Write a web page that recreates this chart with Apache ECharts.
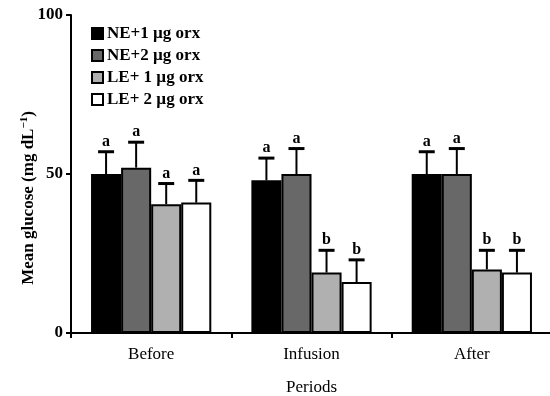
<!DOCTYPE html>
<html>
<head>
<meta charset="utf-8">
<script src="https://cdn.jsdelivr.net/npm/echarts@6/dist/echarts.min.js"></script>
<style>
  html, body { margin: 0; padding: 0; background: #fff; }
  #chart { width: 550px; height: 396px; }
</style>
</head>
<body>
<div id="chart"></div>
<script>
var categories = ['Before', 'Infusion', 'After'];
var seriesNames = ['NE+1 \u00b5g orx', 'NE+2 \u00b5g orx', 'LE+ 1 \u00b5g orx', 'LE+ 2 \u00b5g orx'];
var ne1 = [50, 48, 50];
var ne1Se = [7, 7, 7];
var ne2 = [52, 50, 50];
var ne2Se = [8, 8, 8];
var le1 = [40.5, 19, 20];
var le1Se = [6.5, 7, 6];
var le2 = [41, 16, 19];
var le2Se = [7, 7, 7];
var letters = [
  ['a', 'a', 'a'],
  ['a', 'a', 'a'],
  ['a', 'b', 'b'],
  ['a', 'b', 'b']
];
var colors = ['#000000', '#686868', '#b0b0b0', '#ffffff'];

var means = [ne1, ne2, le1, le2];
var ses = [ne1Se, ne2Se, le1Se, le2Se];
var FONT = '"Liberation Serif", "Times New Roman", serif';
var GAP = 0.25;

function errRender(si) {
  return function (params, api) {
    var idx = api.value(0);
    var base = api.coord([idx, api.value(1)]);
    var top = api.coord([idx, api.value(2)]);
    var band = api.size([1, 0])[0];
    var bw = band * (1 - GAP) / 4;
    var x = base[0] + (si - 1.5) * bw;
    var half = 8;
    return {
      type: 'group',
      children: [
        { type: 'line', shape: { x1: x, y1: base[1], x2: x, y2: top[1] }, style: { stroke: '#000', lineWidth: 2 } },
        { type: 'line', shape: { x1: x - half, y1: top[1], x2: x + half, y2: top[1] }, style: { stroke: '#000', lineWidth: 3 } },
        { type: 'text', x: x, y: top[1] - 2, style: { text: letters[si][idx], align: 'center', verticalAlign: 'bottom', font: 'bold 16px ' + FONT, fill: '#000' } }
      ]
    };
  };
}

var series = [];
means.forEach(function (m, si) {
  series.push({
    name: seriesNames[si],
    type: 'bar',
    data: m,
    barGap: '0%',
    barCategoryGap: (GAP * 100) + '%',
    itemStyle: { color: colors[si], borderColor: '#000', borderWidth: 2 },
    emphasis: { disabled: true },
    silent: true
  });
});
means.forEach(function (m, si) {
  series.push({
    type: 'custom',
    renderItem: errRender(si),
    data: m.map(function (v, i) { return [i, v, v + ses[si][i]]; }),
    encode: { x: 0, y: [1, 2] },
    z: 5,
    silent: true
  });
});

var chart = echarts.init(document.getElementById('chart'), null, { renderer: 'canvas' });
chart.setOption({
  animation: false,
  grid: { left: 71, right: -2, top: 15, bottom: 63, outerBoundsMode: 'none', containLabel: false },
  legend: {
    data: seriesNames,
    orient: 'vertical',
    left: 86,
    top: 20,
    itemWidth: 11,
    itemHeight: 11,
    itemGap: 5,
    icon: 'rect',
    textStyle: { fontFamily: FONT, fontSize: 17, fontWeight: 'bold', color: '#000', padding: [0, 0, 0, -1] },
    itemStyle: { borderColor: '#000', borderWidth: 2 }
  },
  xAxis: {
    type: 'category',
    data: categories,
    name: 'Periods',
    nameLocation: 'middle',
    nameGap: 46,
    nameMoveOverlap: false,
    nameTextStyle: { fontFamily: FONT, fontSize: 17, color: '#000' },
    axisLine: { lineStyle: { color: '#000', width: 2 } },
    axisTick: { show: true, length: 5, lineStyle: { width: 2, color: '#000' } },
    axisLabel: { fontFamily: FONT, fontSize: 17, color: '#000', margin: 13 }
  },
  yAxis: {
    type: 'value',
    min: 0,
    max: 100,
    interval: 50,
    name: 'Mean glucose (mg dL{sup|\u22121})',
    nameLocation: 'middle',
    nameGap: 32,
    nameMoveOverlap: false,
    nameTextStyle: {
      fontFamily: FONT, fontSize: 17, fontWeight: 'bold', color: '#000',
      padding: [0, 48, 0, 0],
      rich: { sup: { fontFamily: FONT, fontSize: 11, fontWeight: 'bold', color: '#000', verticalAlign: 'top', padding: [0, 0, 9, 0] } }
    },
    axisLine: { show: true, lineStyle: { color: '#000', width: 2 } },
    axisTick: { show: true, length: 5, lineStyle: { width: 2, color: '#000' } },
    splitLine: { show: false },
    axisLabel: { fontFamily: FONT, fontSize: 17, fontWeight: 'bold', color: '#000', margin: 8 }
  },
  series: series
});
</script>
</body>
</html>
